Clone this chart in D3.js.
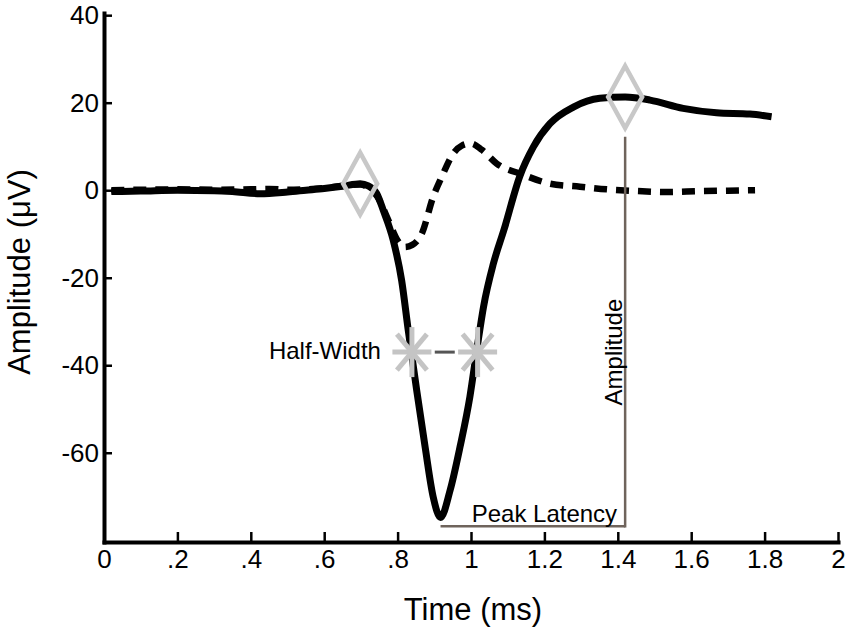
<!DOCTYPE html>
<html>
<head>
<meta charset="utf-8">
<script src="https://cdn.jsdelivr.net/npm/d3@7"></script>
<style>
  body { margin: 0; background: #fff; }
  svg { display: block; font-family: "Liberation Sans", Arial, sans-serif; }
</style>
</head>
<body>
<svg id="chart"></svg>
<script>
// waveform values (time in ms, amplitude in µV)
var solidTime = [0.02, 0.1, 0.2, 0.3, 0.35, 0.425, 0.5, 0.55, 0.6, 0.65, 0.698, 0.72, 0.743, 0.761, 0.788, 0.811, 0.829, 0.852, 0.875, 0.897, 0.917, 0.943, 0.97, 0.997, 1.015, 1.034, 1.061, 1.09, 1.133, 1.17, 1.215, 1.279, 1.351, 1.42, 1.488, 1.578, 1.669, 1.76, 1.819];
var solidAmp = [-0.3, -0.2, 0, -0.1, -0.3, -0.8, -0.4, 0, 0.4, 0.9, 1.5, 1.0, -0.75, -4.6, -11.4, -20.6, -32, -45.7, -58.7, -70.1, -74.8, -68.6, -58.7, -47.2, -37, -26.7, -16.8, -9, 3.2, 9.9, 15.2, 19.0, 21.0, 21.3, 20.6, 18.7, 17.7, 17.4, 16.8];

var dashTime = [0.02, 0.1, 0.2, 0.3, 0.4, 0.45, 0.5, 0.6, 0.65, 0.698, 0.72, 0.745, 0.775, 0.8, 0.82, 0.84, 0.866, 0.897, 0.92, 0.952, 0.975, 1.0, 1.03, 1.07, 1.14, 1.215, 1.297, 1.37, 1.442, 1.533, 1.624, 1.7, 1.774];
var dashAmp = [0, 0.1, 0.2, 0.1, 0.2, 0.3, 0.1, 0.5, 1.0, 1.3, 0.6, -1.5, -6.9, -11.5, -13, -12.5, -9.9, -1.5, 3.0, 8.4, 10.2, 10.7, 9.2, 6.1, 3.6, 1.5, 0.8, 0.2, -0.15, -0.4, -0.2, -0.1, 0];

// measured features
var onsetPoint = [0.698, 1.5];
var peakPoint = [1.42, 21.3];
var troughPoint = [0.917, -74.8];
var halfWidthTime = [0.839, 1.018];
var halfWidthAmp = -37;
var latencyLevel = -76.8;
var amplitudeLineTop = 12.2;

var xTicks = [0, 0.2, 0.4, 0.6, 0.8, 1, 1.2, 1.4, 1.6, 1.8, 2];
var xTickLabels = ['0', '.2', '.4', '.6', '.8', '1', '1.2', '1.4', '1.6', '1.8', '2'];
var yTicks = [-60, -40, -20, 0, 20, 40];
var yTickLabels = ['-60', '-40', '-20', '0', '20', '40'];

var width = 850, height = 635;
var svg = d3.select('#chart').attr('width', width).attr('height', height);

var xScale = d3.scaleLinear().domain([0, 2]).range([104, 838]);
var yScale = d3.scaleLinear().domain([-80.4, 40.5]).range([542, 13]);

// axes
var xAxis = d3.axisBottom(xScale)
    .tickValues(xTicks)
    .tickFormat(function (d, i) { return xTickLabels[i]; })
    .tickSize(-10).tickSizeOuter(0).tickPadding(8);
var gx = svg.append('g').attr('transform', 'translate(0,' + yScale.range()[0] + ')').call(xAxis);

var yAxis = d3.axisLeft(yScale)
    .tickValues(yTicks)
    .tickFormat(function (d, i) { return yTickLabels[i]; })
    .tickSize(-8).tickSizeOuter(0).tickPadding(5);
var gy = svg.append('g').attr('transform', 'translate(' + xScale.range()[0] + ',0)').call(yAxis);

[gx, gy].forEach(function (g) {
    g.select('.domain').attr('stroke', '#000').attr('stroke-width', 4).attr('stroke-linecap', 'square');
    g.selectAll('.tick line').attr('stroke', '#000').attr('stroke-width', 2.5);
    g.selectAll('.tick text').attr('fill', '#000').style('font-size', '26px').style('font-family', '"Liberation Sans", Arial, sans-serif');
});

svg.append('text')
    .attr('x', 473).attr('y', 620)
    .attr('text-anchor', 'middle')
    .style('font-size', '31px')
    .text('Time (ms)');

svg.append('text')
    .attr('transform', 'translate(30,272) rotate(-90)')
    .attr('text-anchor', 'middle')
    .style('font-size', '31px')
    .text('Amplitude (μV)');

// waveforms
var line = d3.line()
    .x(function (d) { return xScale(d[0]); })
    .y(function (d) { return yScale(d[1]); })
    .curve(d3.curveMonotoneX);

svg.append('path')
    .datum(dashTime.map(function (t, i) { return [t, dashAmp[i]]; }))
    .attr('d', line)
    .attr('fill', 'none')
    .attr('stroke', '#000')
    .attr('stroke-width', 6.5)
    .attr('stroke-dasharray', '13,9');

svg.append('path')
    .datum(solidTime.map(function (t, i) { return [t, solidAmp[i]]; }))
    .attr('d', line)
    .attr('fill', 'none')
    .attr('stroke', '#000')
    .attr('stroke-width', 7)
    .attr('stroke-linejoin', 'round');

// peak latency and amplitude guides
var guideColor = '#6f645c';
var px = xScale(peakPoint[0]);
var latY = yScale(latencyLevel);
svg.append('line')
    .attr('x1', xScale(troughPoint[0])).attr('x2', px)
    .attr('y1', latY).attr('y2', latY)
    .attr('stroke', guideColor).attr('stroke-width', 2.5);
svg.append('line')
    .attr('x1', px).attr('x2', px)
    .attr('y1', yScale(amplitudeLineTop)).attr('y2', latY + 1.25)
    .attr('stroke', guideColor).attr('stroke-width', 2.5);

svg.append('text')
    .attr('x', px - 8).attr('y', latY - 4.5)
    .attr('text-anchor', 'end')
    .style('font-size', '24px')
    .text('Peak Latency');

svg.append('text')
    .attr('transform', 'translate(' + (px - 3.5) + ',' + yScale(halfWidthAmp) + ') rotate(-90)')
    .attr('text-anchor', 'middle')
    .style('font-size', '24px')
    .text('Amplitude');

// half-width markers
var hwY = yScale(halfWidthAmp);
var hx0 = xScale(halfWidthTime[0]), hx1 = xScale(halfWidthTime[1]);
var mid = (hx0 + hx1) / 2;
svg.append('line')
    .attr('x1', mid - 10).attr('x2', mid + 10)
    .attr('y1', hwY).attr('y2', hwY)
    .attr('stroke', '#555').attr('stroke-width', 3);

var arms = [[0, -25, 0, 25], [-19.5, 0, 19.5, 0], [-15, -18, 15, 18], [-15, 18, 15, -18]];
svg.selectAll('g.star')
    .data(halfWidthTime)
    .enter().append('g')
    .attr('class', 'star')
    .attr('transform', function (d) { return 'translate(' + xScale(d) + ',' + hwY + ')'; })
    .selectAll('line')
    .data(arms)
    .enter().append('line')
    .attr('x1', function (a) { return a[0]; })
    .attr('y1', function (a) { return a[1]; })
    .attr('x2', function (a) { return a[2]; })
    .attr('y2', function (a) { return a[3]; })
    .attr('stroke', '#c4c4c4')
    .attr('stroke-width', 5);

svg.append('text')
    .attr('x', hx0 - 31).attr('y', hwY + 7)
    .attr('text-anchor', 'end')
    .style('font-size', '24px')
    .text('Half-Width');

// onset and peak diamonds
svg.selectAll('path.diamond')
    .data([onsetPoint, peakPoint])
    .enter().append('path')
    .attr('class', 'diamond')
    .attr('d', 'M0,-31L17,0L0,31L-17,0Z')
    .attr('transform', function (d) { return 'translate(' + xScale(d[0]) + ',' + yScale(d[1]) + ')'; })
    .attr('fill', 'none')
    .attr('stroke', '#c8c8c8')
    .attr('stroke-width', 4.5);
</script>
</body>
</html>
